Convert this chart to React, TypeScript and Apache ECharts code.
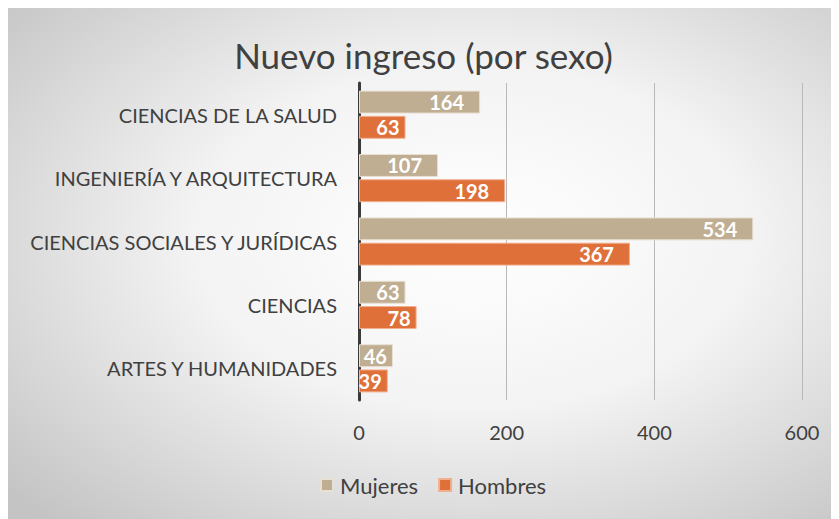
import React, { useEffect, useRef } from "react";
import * as echarts from "echarts";

const categories = [
  "CIENCIAS DE LA SALUD",
  "INGENIERÍA Y ARQUITECTURA",
  "CIENCIAS SOCIALES Y JURÍDICAS",
  "CIENCIAS",
  "ARTES Y HUMANIDADES",
];
const mujeres = [164, 107, 534, 63, 46];
const hombres = [63, 198, 367, 78, 39];
const seriesNames = ["Mujeres", "Hombres"];

const FONT = "Lato, 'Open Sans', sans-serif";

export default function App() {
  const ref = useRef<HTMLDivElement>(null);
  useEffect(() => {
    if (!ref.current) return;
    const chart = echarts.init(ref.current, undefined, { renderer: "svg" });
    const label = {
      show: true,
      position: "insideRight" as const,
      color: "#ffffff",
      fontWeight: "bold" as const,
      fontSize: 20,
      fontFamily: FONT,
      distance: 6,
    };
    const toData = (arr: number[]) =>
      arr.map((v) => ({ value: v, label: { distance: v >= 100 ? 16 : 6 } }));
    chart.setOption({
      animation: false,
      backgroundColor: {
        type: "radial",
        x: 0.56,
        y: 0.45,
        r: 0.75,
        colorStops: [
          { offset: 0, color: "#ffffff" },
          { offset: 0.45, color: "#f3f3f3" },
          { offset: 1, color: "#c4c4c4" },
        ],
      },
      title: {
        text: "Nuevo ingreso (por sexo)",
        left: "center",
        top: 24,
        textStyle: {
          fontFamily: FONT,
          fontSize: 35,
          fontWeight: "normal",
          color: "#404040",
        },
      },
      legend: {
        bottom: 18,
        left: 307,
        itemWidth: 12,
        itemHeight: 12,
        itemGap: 20,
        icon: "rect",
        textStyle: { fontFamily: FONT, fontSize: 22, color: "#404040", padding: [0, 0, 0, 2] },
        data: seriesNames,
      },
      grid: { left: 351, right: 37, top: 75, height: 317 },
      xAxis: {
        type: "value",
        min: 0,
        max: 600,
        interval: 200,
        axisLine: { show: false },
        axisTick: { show: false },
        splitLine: { lineStyle: { color: "#b8b8b8", width: 1 } },
        axisLabel: {
          fontFamily: FONT,
          fontSize: 20,
          color: "#404040",
          margin: 22,
        },
      },
      yAxis: {
        type: "category",
        data: categories,
        inverse: true,
        axisLine: { lineStyle: { color: "#3a3a3a", width: 3 } },
        axisTick: { show: false },
        axisLabel: {
          fontFamily: FONT,
          fontSize: 20,
          color: "#404040",
          margin: 22,
        },
      },
      series: [
        {
          name: seriesNames[0],
          type: "bar",
          data: toData(mujeres),
          itemStyle: { color: "#c0ae92", borderColor: "#e8e0d4", borderWidth: 1 },
          barGap: "10%",
          barCategoryGap: "24%",
          label,
        },
        {
          name: seriesNames[1],
          type: "bar",
          data: toData(hombres),
          itemStyle: { color: "#e0703a", borderColor: "#f0b090", borderWidth: 1 },
          barGap: "10%",
          barCategoryGap: "24%",
          label,
        },
      ],
    });
    return () => chart.dispose();
  }, []);
  return <div ref={ref} style={{ width: 831, height: 511 }} />;
}
